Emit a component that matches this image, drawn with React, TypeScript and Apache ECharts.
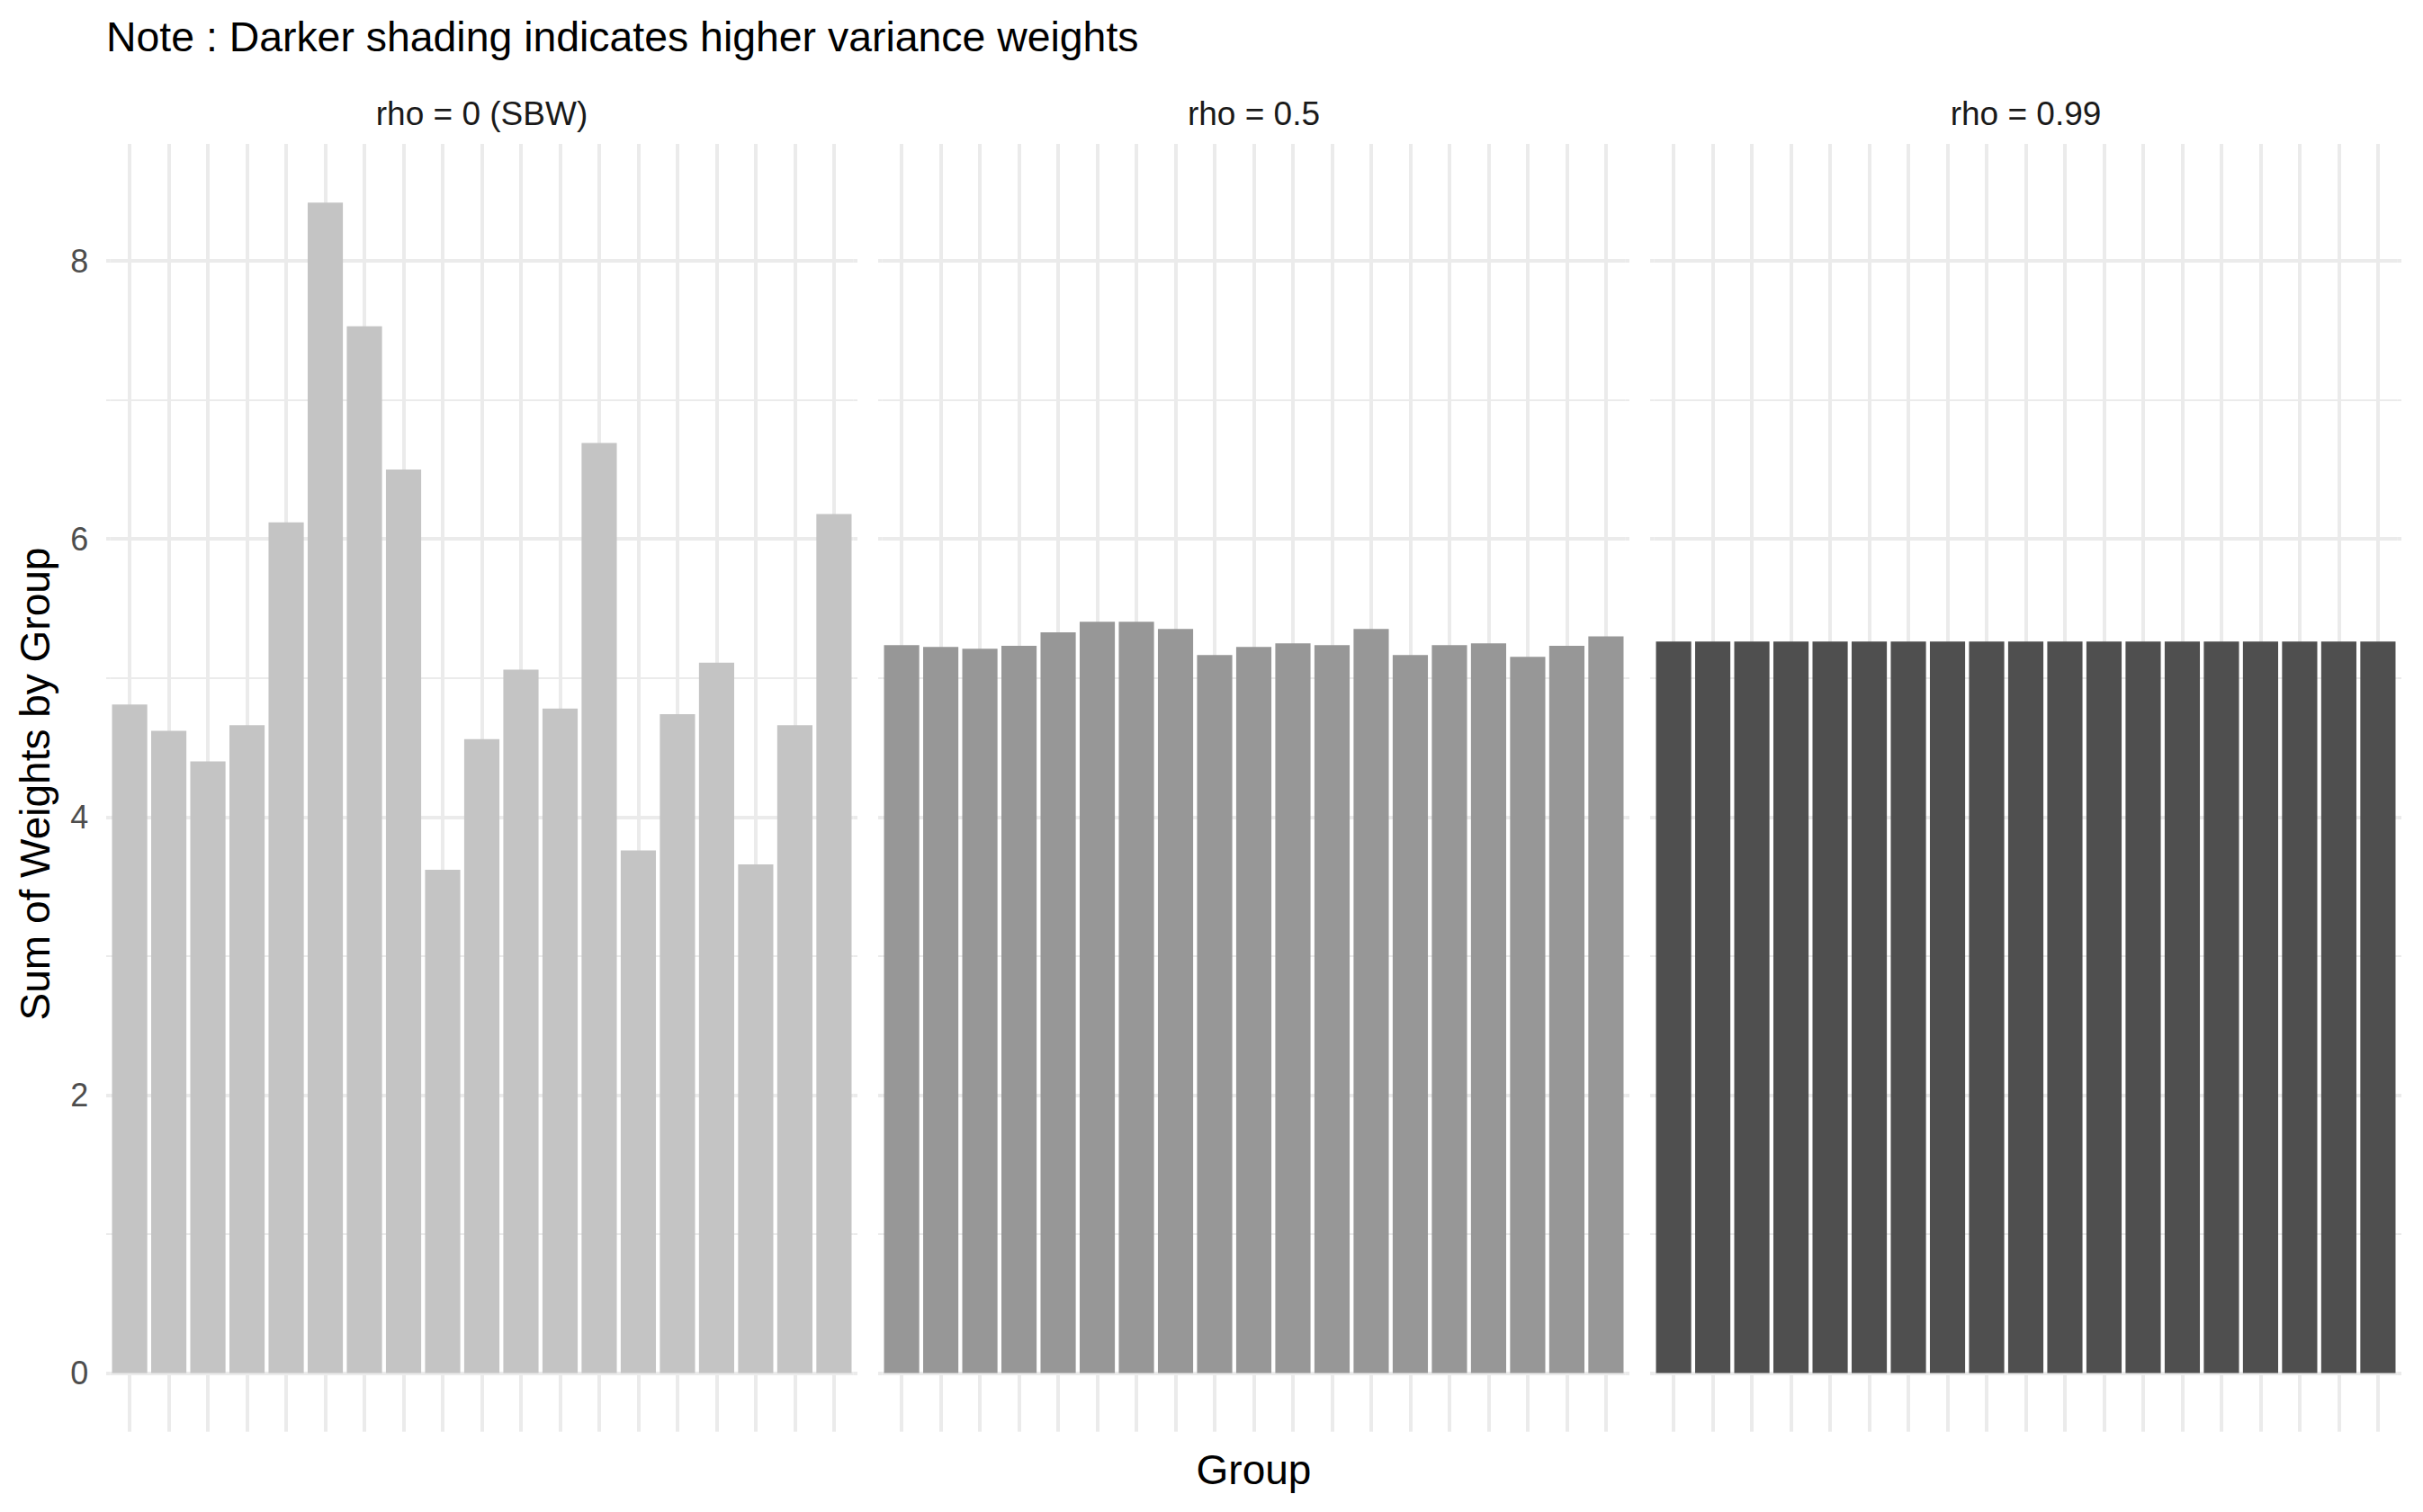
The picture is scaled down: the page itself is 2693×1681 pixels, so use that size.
import React, { useEffect, useRef } from "react";
import * as echarts from "echarts";

const W = 2693;
const H = 1681;

const groups = ["1","2","3","4","5","6","7","8","9","10","11","12","13","14","15","16","17","18","19"];
const panelTitles = ["rho = 0 (SBW)", "rho = 0.5", "rho = 0.99"];
const rho0 = [4.81, 4.62, 4.40, 4.66, 6.12, 8.42, 7.53, 6.50, 3.62, 4.56, 5.06, 4.78, 6.69, 3.76, 4.74, 5.11, 3.66, 4.66, 6.18];
const rho05 = [5.237, 5.224, 5.211, 5.231, 5.328, 5.405, 5.405, 5.353, 5.166, 5.224, 5.25, 5.237, 5.353, 5.166, 5.237, 5.25, 5.153, 5.231, 5.30];
const rho099 = [5.263, 5.263, 5.263, 5.263, 5.263, 5.263, 5.263, 5.263, 5.263, 5.263, 5.263, 5.263, 5.263, 5.263, 5.263, 5.263, 5.263, 5.263, 5.263];
const panelValues = [rho0, rho05, rho099];
const panelColors = ["#C4C4C4", "#979797", "#4F4F4F"];
const yTicks = [0, 2, 4, 6, 8];

const noteText = "Note : Darker shading indicates higher variance weights";
const xTitle = "Group";
const yTitle = "Sum of Weights by Group";

const FONT = "'Liberation Sans', Arial, sans-serif";
const GRID = "#EBEBEB";

// layout (pixels)
const PANEL_LEFT0 = 118;
const PANEL_W = 835;
const PANEL_GAP = 23;
const UNIT_X = PANEL_W / 19.2;
const Y0 = 1526.6;
const UNIT_Y = 154.56;
const EXP_LOW = 0.421;
const EXP_HIGH = 0.842;

export default function App() {
  const ref = useRef<HTMLDivElement>(null);

  useEffect(() => {
    if (!ref.current) return;
    const chart = echarts.init(ref.current, null, { renderer: "svg" });

    const grids: any[] = [];
    const xAxes: any[] = [];
    const yAxes: any[] = [];
    const series: any[] = [];
    const graphics: any[] = [];

    const yMin = yTicks[0];
    const yMax = yTicks[yTicks.length - 1];
    const yInterval = yTicks[1] - yTicks[0];

    panelValues.forEach((vals, i) => {
      const pl = PANEL_LEFT0 + i * (PANEL_W + PANEL_GAP);
      grids.push({
        left: pl + 0.1 * UNIT_X,
        top: Y0 - yMax * UNIT_Y,
        width: 19 * UNIT_X,
        height: (yMax - yMin) * UNIT_Y,
        containLabel: false,
        outerBoundsMode: "none",
      });
      const xBase = {
        type: "category",
        gridIndex: i,
        data: groups,
        boundaryGap: true,
        position: "bottom",
        axisLine: { show: false },
        axisLabel: { show: false },
        splitLine: { show: false },
      };
      // vertical grid lines: upward part (from 0 to panel top)
      xAxes.push({
        ...xBase,
        axisTick: {
          show: true,
          alignWithLabel: true,
          inside: true,
          length: (yMax + EXP_HIGH) * UNIT_Y,
          lineStyle: { color: GRID, width: 4 },
        },
      });
      // vertical grid lines: downward part (from 0 to panel bottom)
      xAxes.push({
        ...xBase,
        axisTick: {
          show: true,
          alignWithLabel: true,
          inside: false,
          length: EXP_LOW * UNIT_Y,
          lineStyle: { color: GRID, width: 4 },
        },
      });
      const tickCommon = {
        axisTick: { show: true, inside: false, length: 0.1 * UNIT_X, lineStyle: { color: GRID, width: 4 } },
        minorTick: { show: true, splitNumber: 2, length: 0.1 * UNIT_X, lineStyle: { color: GRID, width: 2 } },
      };
      yAxes.push({
        type: "value",
        gridIndex: i,
        position: "left",
        min: yMin,
        max: yMax,
        interval: yInterval,
        axisLine: { show: false },
        ...tickCommon,
        splitLine: { show: true, lineStyle: { color: GRID, width: 4 } },
        minorSplitLine: { show: true, lineStyle: { color: GRID, width: 2 } },
        axisLabel: {
          show: i === 0,
          margin: 24,
          fontSize: 36,
          color: "#4D4D4D",
          fontFamily: FONT,
        },
      });
      yAxes.push({
        type: "value",
        gridIndex: i,
        position: "right",
        min: yMin,
        max: yMax,
        interval: yInterval,
        axisLine: { show: false },
        ...tickCommon,
        splitLine: { show: false },
        minorSplitLine: { show: false },
        axisLabel: { show: false },
      });
      series.push({
        type: "bar",
        xAxisIndex: i * 2,
        yAxisIndex: i * 2,
        data: vals,
        barWidth: "90%",
        clip: false,
        silent: true,
        itemStyle: { color: panelColors[i] },
      });
      graphics.push({
        type: "text",
        x: pl + PANEL_W / 2,
        y: 126.4,
        style: {
          text: panelTitles[i],
          fill: "#1A1A1A",
          font: `37px ${FONT}`,
          align: "center",
          verticalAlign: "middle",
        },
      });
    });

    graphics.push({
      type: "text",
      x: PANEL_LEFT0,
      y: 40.8,
      style: { text: noteText, fill: "#000000", font: `46.4px ${FONT}`, align: "left", verticalAlign: "middle" },
    });
    graphics.push({
      type: "text",
      x: (PANEL_LEFT0 + PANEL_LEFT0 + 3 * PANEL_W + 2 * PANEL_GAP) / 2,
      y: 1633.5,
      style: { text: xTitle, fill: "#000000", font: `46px ${FONT}`, align: "center", verticalAlign: "middle" },
    });
    graphics.push({
      type: "text",
      x: 39,
      y: 871.5,
      rotation: Math.PI / 2,
      style: { text: yTitle, fill: "#000000", font: `46px ${FONT}`, align: "center", verticalAlign: "middle" },
    });

    chart.setOption({
      animation: false,
      backgroundColor: "#FFFFFF",
      textStyle: { fontFamily: FONT },
      grid: grids,
      xAxis: xAxes,
      yAxis: yAxes,
      series,
      graphic: graphics,
    });

    return () => chart.dispose();
  }, []);

  return (
    <div
      ref={ref}
      style={{ position: "fixed", left: 0, top: 0, width: W, height: H, background: "#FFFFFF" }}
    />
  );
}
